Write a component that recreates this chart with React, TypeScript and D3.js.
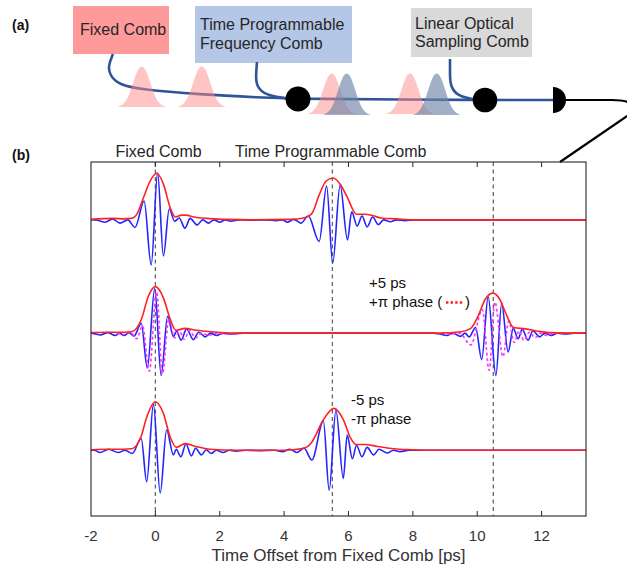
import React from "react";
import * as d3 from "d3";

// ---- chart data (time in ps, amplitude normalised to the fixed comb peak) ----
const tickTimes = [0, 2, 4, 6, 8, 10, 12];
const tickLabels = [-2, 0, 2, 4, 6, 8, 10, 12];
const markerTimes = [0, 5.5, 10.5];
const traceOffsets = [4.9, 2.49, 0];
const topLabels = [
  { t: 0.1, text: "Fixed Comb" },
  { t: 5.45, text: "Time Programmable Comb" },
];

const trace1Blue = [
  [-2, 0], [-1.8, -0.01], [-1.56, -0.05], [-1.33, 0.02], [-1.1, -0.07], [-0.86, 0.0],
  [-0.63, -0.16], [-0.35, 0.4], [-0.13, -0.96], [0.07, 1.0], [0.25, -0.77], [0.43, 0.23],
  [0.6, -0.03], [0.74, 0.04], [0.92, -0.18], [1.08, 0.03], [1.3, -0.11], [1.47, 0.0],
  [1.65, -0.07], [1.82, 0.0], [2.0, -0.05], [2.17, 0.0], [2.35, -0.03], [2.6, 0],
  [3.0, -0.01], [3.4, 0], [3.75, -0.02], [3.95, 0.0], [4.1, -0.05], [4.3, 0.01],
  [4.52, -0.07], [4.75, 0.08], [5.09, -0.46], [5.32, 0.72], [5.51, -0.92], [5.74, 0.74],
  [5.97, -0.43], [6.1, 0.17], [6.27, -0.13], [6.42, 0.08], [6.58, -0.15], [6.75, 0.06],
  [6.93, -0.1], [7.09, 0.0], [7.3, -0.04], [7.5, 0.0], [7.75, -0.02], [8.1, 0], [13.38, 0],
];
const trace1Red = [
  [-2, 0.01], [-1.3, 0.03], [-1.0, 0.02], [-0.75, 0.03], [-0.55, 0.15], [-0.37, 0.47],
  [-0.16, 0.83], [0.04, 0.99], [0.25, 0.76], [0.46, 0.26], [0.62, 0.06], [0.82, 0.1],
  [0.95, 0.1], [1.2, 0.06], [1.6, 0.03], [2.2, 0.01], [3.0, 0], [4.2, 0.01], [4.6, 0.04],
  [4.85, 0.12], [5.09, 0.53], [5.3, 0.82], [5.52, 0.89], [5.75, 0.75], [5.95, 0.5],
  [6.25, 0.12], [6.5, 0.12], [6.8, 0.08], [7.0, 0.04], [7.5, 0.02], [8.0, 0], [13.38, 0],
];

const trace2Blue = [
  [-2, 0], [-1.9, -0.01], [-1.71, -0.04], [-1.48, 0.01], [-1.25, -0.05], [-1.12, 0.0],
  [-0.97, -0.05], [-0.82, 0.01], [-0.66, -0.06], [-0.44, 0.21], [-0.25, -0.74], [-0.02, 0.95],
  [0.18, -0.9], [0.38, 0.36], [0.56, -0.07], [0.66, 0.04], [0.8, -0.15], [0.97, 0.09],
  [1.18, -0.14], [1.35, 0.02], [1.55, -0.08], [1.72, 0.0], [1.9, -0.05], [2.1, 0],
  [2.35, -0.02], [2.7, 0], [8.6, 0], [8.85, -0.02], [9.05, -0.05], [9.25, 0.0], [9.48, -0.07],
  [9.62, 0.0], [9.75, -0.08], [9.95, 0.12], [10.14, -0.56], [10.34, 0.77], [10.58, -0.9],
  [10.76, 0.63], [10.96, -0.4], [11.12, 0.1], [11.27, -0.12], [11.4, 0.08], [11.58, -0.15],
  [11.73, 0.05], [11.94, -0.08], [12.1, 0.0], [12.3, -0.05], [12.5, 0], [12.75, -0.02],
  [13.0, 0], [13.38, 0],
];
const trace2PhaseA = [
  [-1.2, 0], [-0.95, -0.03], [-0.78, 0.02], [-0.58, -0.12], [-0.4, 0.15], [-0.19, -0.81],
  [0.04, 0.88], [0.22, -0.86], [0.42, 0.3], [0.6, -0.1], [0.75, 0.03], [0.9, -0.13],
  [1.06, 0.06], [1.25, -0.1], [1.45, 0.0], [1.65, -0.05], [1.9, 0], [2.2, -0.02], [2.5, 0],
];
const trace2PhaseB = [
  [8.9, 0], [9.2, -0.02], [9.45, 0.0], [9.8, -0.25], [10.16, 0.5], [10.37, -0.79],
  [10.55, 0.66], [10.8, -0.5], [10.98, 0.25], [11.15, -0.2], [11.3, 0.05], [11.45, -0.15],
  [11.62, 0.02], [11.8, -0.1], [11.97, 0.0], [12.15, -0.05], [12.4, 0], [12.8, 0],
];
const trace2Red = [
  [-2, 0.01], [-1.5, 0.02], [-1.0, 0.02], [-0.74, 0.03], [-0.43, 0.3], [-0.22, 0.78],
  [0.0, 0.99], [0.25, 0.75], [0.45, 0.32], [0.64, 0.06], [0.92, 0.1], [1.28, 0.06],
  [1.7, 0.03], [2.5, 0.0], [8.8, 0.0], [9.5, 0.03], [9.8, 0.1], [10.02, 0.35], [10.25, 0.72],
  [10.49, 0.85], [10.7, 0.72], [10.87, 0.45], [11.13, 0.12], [11.5, 0.09], [11.9, 0.04],
  [12.3, 0.01], [13.38, 0],
];

const trace3Blue = [
  [-2, 0], [-1.9, 0.0], [-1.72, -0.05], [-1.45, 0.02], [-1.15, -0.05], [-0.94, 0.0],
  [-0.72, -0.07], [-0.44, 0.25], [-0.27, -0.67], [-0.06, 0.98], [0.15, -0.91], [0.35, 0.43],
  [0.56, -0.1], [0.65, 0.02], [0.79, -0.14], [0.95, 0.13], [1.12, -0.12], [1.25, 0.04],
  [1.43, -0.1], [1.58, 0.01], [1.73, -0.07], [1.9, 0.0], [2.1, -0.05], [2.3, 0],
  [2.5, -0.02], [2.8, 0], [3.2, -0.01], [3.7, 0], [3.95, -0.03], [4.18, 0.02], [4.39, -0.05],
  [4.62, 0.04], [4.86, -0.21], [5.22, 0.62], [5.4, -0.85], [5.61, 0.85], [5.84, -0.6],
  [5.96, 0.32], [6.12, -0.18], [6.25, 0.1], [6.42, -0.14], [6.58, 0.06], [6.78, -0.1],
  [6.95, 0.02], [7.2, -0.06], [7.4, 0], [7.6, -0.03], [7.9, 0], [13.38, 0],
];
const trace3Red = [
  [-2, 0.01], [-1.5, 0.02], [-1.0, 0.02], [-0.73, 0.03], [-0.44, 0.3], [-0.27, 0.7],
  [0.0, 1.03], [0.25, 0.78], [0.46, 0.28], [0.65, 0.06], [0.93, 0.14], [1.3, 0.07],
  [1.7, 0.02], [2.5, 0.0], [4.0, 0.0], [4.3, 0.01], [4.65, 0.05], [4.86, 0.17], [5.22, 0.65],
  [5.55, 0.89], [5.84, 0.65], [6.05, 0.28], [6.25, 0.12], [6.5, 0.12], [6.9, 0.08],
  [7.4, 0.03], [7.95, 0.01], [8.5, 0], [13.38, 0],
];

// pulse icon profile for the setup sketch (offset, relative height)
const pulseProfile = [
  [-24, 0], [-18, 0.06], [-13, 0.25], [-8, 0.62], [-4, 0.9], [0, 1],
  [4, 0.9], [8, 0.62], [13, 0.25], [18, 0.06], [24, 0],
];

const FONT = "'Liberation Sans', Arial, Helvetica, sans-serif";
const BLUE = "#2424ff";
const RED = "#ff2222";
const MAGENTA = "#ff33ff";
const FIBER = "#2f5597";

export default function App() {
  const x = d3.scaleLinear().domain([-2, 13.38]).range([91, 586]);
  const y = d3.scaleLinear().domain([-1.4, 6.13]).range([516, 162]);
  const [x0, x1] = x.range();
  const [yb, yt] = y.range();

  const lineAt = (offset: number) =>
    d3
      .line<number[]>()
      .x((d) => x(d[0]))
      .y((d) => y(d[1] + offset))
      .curve(d3.curveMonotoneX);

  const traces = [
    { blue: trace1Blue, red: trace1Red, phase: [] as number[][][] },
    { blue: trace2Blue, red: trace2Red, phase: [trace2PhaseA, trace2PhaseB] },
    { blue: trace3Blue, red: trace3Red, phase: [] as number[][][] },
  ];

  // setup sketch helpers
  const pulsePath = (cx: number, base: number, h: number) =>
    d3
      .area<number[]>()
      .x((d) => cx + d[0])
      .y0(base)
      .y1((d) => base - d[1] * h)
      .curve(d3.curveBasis)(pulseProfile) || "";

  const smooth = d3.line<number[]>().curve(d3.curveBasis);

  const mainFiber: [number, number][] = [
    [113, 54], [108, 66], [110, 76], [120, 85], [140, 89.5], [200, 94.5], [260, 97.5], [298, 99], [485, 100], [554, 100],
  ];
  const progBranch: [number, number][] = [[257, 62], [256, 74], [256, 86], [266, 96], [292, 99]];
  const losBranch: [number, number][] = [[450, 59], [450, 72], [450, 86], [458, 97], [480, 100]];

  return (
    <div style={{ position: "absolute", left: 0, top: 0 }}>
      <svg width={627} height={566} style={{ display: "block", fontFamily: FONT }}>
        <rect width={627} height={566} fill="#fff" />

        {/* (a) setup sketch */}
        <text x={12} y={30} fontSize={14} fontWeight="bold" fill="#111">(a)</text>
        <rect x={73} y={6} width={96} height={48} fill="#ff9a9a" />
        <text x={80} y={35} fontSize={16} fill="#262626">Fixed Comb</text>
        <rect x={195} y={6} width={157} height={57} fill="#b4c7e7" />
        <text x={200} y={29.5} fontSize={16} fill="#262626">Time Programmable</text>
        <text x={200} y={49} fontSize={16} fill="#262626">Frequency Comb</text>
        <rect x={411} y={8} width={121} height={49} fill="#d9d9d9" />
        <text x={415} y={28.5} fontSize={16} fill="#262626">Linear Optical</text>
        <text x={415} y={47} fontSize={16} fill="#262626">Sampling Comb</text>

        <path d={smooth(mainFiber) || ""} fill="none" stroke={FIBER} strokeWidth={2.6} />
        <path d={smooth(progBranch) || ""} fill="none" stroke={FIBER} strokeWidth={2.6} />
        <path d={smooth(losBranch) || ""} fill="none" stroke={FIBER} strokeWidth={2.6} />

        <path d={pulsePath(141.7, 107, 42)} fill="#ff8c8c" opacity={0.5} />
        <path d={pulsePath(201.7, 107, 42)} fill="#ff8c8c" opacity={0.5} />
        <path d={pulsePath(331.7, 114, 42)} fill="#ff8c8c" opacity={0.5} />
        <path d={pulsePath(346.7, 115, 43)} fill="#6f86a8" opacity={0.65} />
        <path d={pulsePath(410, 114, 42)} fill="#ff8c8c" opacity={0.5} />
        <path d={pulsePath(436.7, 115, 43)} fill="#6f86a8" opacity={0.65} />

        <circle cx={298} cy={99} r={12.5} fill="#000" />
        <circle cx={485} cy={100} r={12.3} fill="#000" />
        <path d="M553,87 A13,13 0 0 1 553,113 Z" fill="#000" />
        <path d="M566,100 L612,100 Q640,100 630,114 L560,162" fill="none" stroke="#000" strokeWidth={2.2} />

        {/* (b) interferograms */}
        <text x={12} y={160} fontSize={14} fontWeight="bold" fill="#111">(b)</text>
        {topLabels.map((l) => (
          <text key={l.text} x={x(l.t)} y={157} fontSize={16} textAnchor="middle" fill="#262626">
            {l.text}
          </text>
        ))}

        {markerTimes.map((t) => (
          <line key={t} x1={x(t)} x2={x(t)} y1={yt} y2={yb} stroke="#666" strokeWidth={1.3} strokeDasharray="4 3.5" />
        ))}

        {traces.map((tr, i) => (
          <g key={i}>
            <path d={lineAt(traceOffsets[i])(tr.blue) || ""} fill="none" stroke={BLUE} strokeWidth={1.6} />
            {tr.phase.map((p, j) => (
              <path key={j} d={lineAt(traceOffsets[i])(p) || ""} fill="none" stroke={MAGENTA} strokeWidth={1.6} strokeDasharray="3 2.5" />
            ))}
            <path d={lineAt(traceOffsets[i])(tr.red) || ""} fill="none" stroke={RED} strokeWidth={1.6} />
          </g>
        ))}

        {/* frame and ticks */}
        <rect x={x0} y={yt} width={x1 - x0} height={yb - yt} fill="none" stroke="#262626" strokeWidth={1.1} />
        {tickTimes.map((t) => (
          <g key={t}>
            <line x1={x(t)} x2={x(t)} y1={yb} y2={yb - 5} stroke="#262626" strokeWidth={1} />
            <line x1={x(t)} x2={x(t)} y1={yt} y2={yt + 5} stroke="#262626" strokeWidth={1} />
          </g>
        ))}
        {tickLabels.map((t) => (
          <text key={t} x={x(t)} y={541} fontSize={15} textAnchor="middle" fill="#333">
            {t}
          </text>
        ))}
        <text x={(x0 + x1) / 2} y={561} fontSize={17} textAnchor="middle" fill="#333">
          Time Offset from Fixed Comb [ps]
        </text>

        {/* annotations */}
        <text x={369} y={288} fontSize={15} fill="#111">+5 ps</text>
        <text x={369} y={307} fontSize={15} fill="#111">+π phase (</text>
        <line x1={446} x2={463} y1={302.5} y2={302.5} stroke={RED} strokeWidth={2.6} strokeDasharray="2.4 2.2" />
        <text x={465} y={307} fontSize={15} fill="#111">)</text>
        <text x={351} y={405} fontSize={15} fill="#111">-5 ps</text>
        <text x={351} y={424} fontSize={15} fill="#111">-π phase</text>
      </svg>
    </div>
  );
}
